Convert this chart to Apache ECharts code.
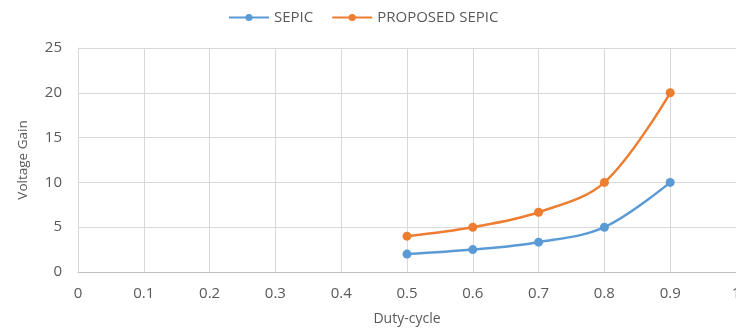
<!DOCTYPE html>
<html><head><meta charset="utf-8">
<script src="https://cdn.jsdelivr.net/npm/echarts@6/dist/echarts.min.js"></script>
<style>html,body{margin:0;padding:0;background:#fff}#c{width:736px;height:329px}</style>
</head><body><div id="c"></div>
<script>
const dutyCycle = [0.5, 0.6, 0.7, 0.8, 0.9];
const sepic = [2, 2.5, 3.33, 5, 10];
const proposedSepic = [4, 5, 6.67, 10, 20];
const seriesNames = ['SEPIC', 'PROPOSED SEPIC'];

const font = '"Open Sans", sans-serif';
const chart = echarts.init(document.getElementById('c'));
const mk = (name, vals, color) => ({
  name, type: 'line', smooth: 0.35,
  data: dutyCycle.map((d, i) => [d, vals[i]]),
  symbol: 'circle', symbolSize: 9,
  lineStyle: {color, width: 2.5},
  itemStyle: {color},
  z: name === 'SEPIC' ? 3 : 2
});
chart.setOption({
  animation: false,
  legend: {
    top: 5, left: 223, itemGap: 18, itemWidth: 40, itemHeight: 9,
    textStyle: {fontFamily: font, fontSize: 15, color: '#595959'},
    data: seriesNames
  },
  grid: {left: 78, right: 0, top: 48, bottom: 57, outerBoundsMode: 'none'},
  xAxis: {
    type: 'value', min: 0, max: 1, interval: 0.1,
    name: 'Duty-cycle', nameLocation: 'middle', nameGap: 40,
    nameTextStyle: {fontFamily: font, fontSize: 14, color: '#595959'},
    axisLine: {lineStyle: {color: '#bfbfbf', width: 1}},
    axisTick: {show: false},
    axisLabel: {fontFamily: font, fontSize: 15, color: '#595959', margin: 14, showMaxLabel: true},
    splitLine: {show: true, lineStyle: {color: '#d9d9d9', width: 1}}
  },
  yAxis: {
    type: 'value', min: 0, max: 25, interval: 5,
    name: 'Voltage Gain', nameLocation: 'middle', nameGap: 48,
    nameTextStyle: {fontFamily: font, fontSize: 13.5, color: '#595959'},
    axisLine: {show: true, lineStyle: {color: '#d9d9d9', width: 1}},
    axisTick: {show: false},
    axisLabel: {fontFamily: font, fontSize: 15, color: '#595959', margin: 16},
    splitLine: {show: true, lineStyle: {color: '#d9d9d9', width: 1}}
  },
  series: [
    mk(seriesNames[0], sepic, '#5b9bd5'),
    mk(seriesNames[1], proposedSepic, '#ed7d31')
  ]
});
</script></body></html>
